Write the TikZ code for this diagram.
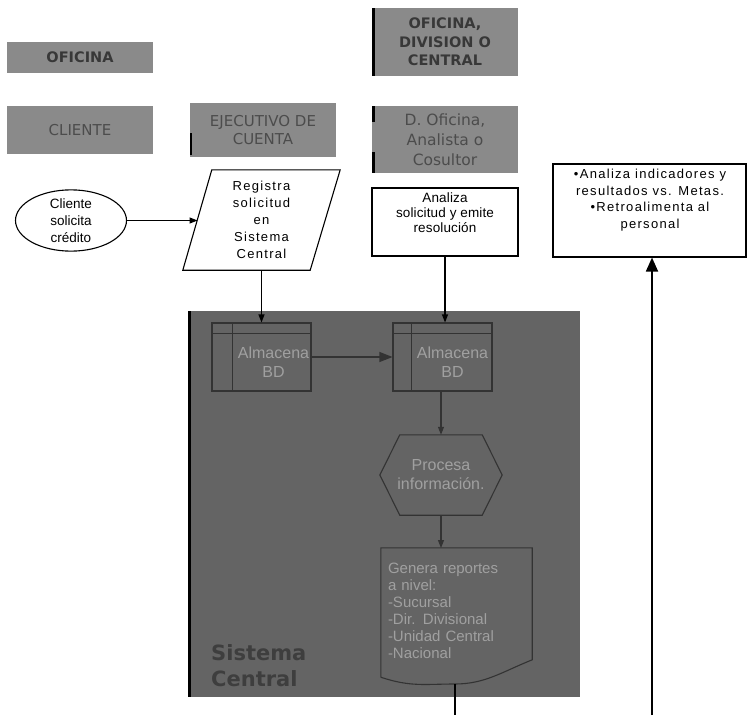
\documentclass[tikz,border=0pt]{standalone}
\usepackage{fontspec}
\setmainfont{Liberation Sans}
\newfontfamily\vfont{DejaVu Sans}
\newfontfamily\wfont[LetterSpace=10]{Liberation Sans}
\newfontfamily\afont[LetterSpace=1]{Liberation Sans}
\usetikzlibrary{arrows.meta,calc,shapes.geometric}
\definecolor{hdrgray}{HTML}{8A8A8A}
\definecolor{hdrtext}{HTML}{383838}
\definecolor{hdrtextlight}{HTML}{4C4C4C}
\definecolor{regiongray}{HTML}{646464}
\definecolor{regionline}{HTML}{333333}
\definecolor{regiontext}{HTML}{A0A0A0}
\definecolor{sctext}{HTML}{3E3E3E}
\tikzset{
  hdr/.style={fill=hdrgray, draw=none, inner sep=0pt, align=center, minimum width=146pt},
  hdrbold/.style={hdr, text=hdrtext, font=\vfont\bfseries\fontsize{14.5}{18.5}\selectfont},
  hdrnorm/.style={hdr, text=hdrtextlight, font=\vfont\fontsize{15}{18}\selectfont},
  wbox/.style={draw=black, fill=white, line width=1.1pt, inner sep=0pt},
  ghost/.style={draw=none, inner sep=0pt, align=center},
  almbox/.style={draw=regionline, line width=1.1pt, inner sep=0pt, minimum width=99pt, minimum height=68pt},
  regtext/.style={text=regiontext, font=\fontsize{16}{19}\selectfont, align=center, inner sep=0pt},
  arr/.style={draw=black, line width=1.1pt, -{Triangle[length=8pt,width=6pt]}},
  darr/.style={draw=regionline, line width=1.1pt, -{Triangle[length=8pt,width=6pt]}},
  bigarr/.style={draw=black, line width=1.8pt, -{Triangle[length=14pt,width=12pt]}},
  bar/.style={fill=black, draw=none}
}
\begin{document}
\begin{tikzpicture}[x=1pt,y=-1pt]
\useasboundingbox (0,0) rectangle (747,715);

% header boxes
\node[hdrbold, minimum height=31pt] (hofi) at (80,57.5) {OFICINA};
\node[hdrnorm, minimum height=48pt] (hcli) at (80,130) {CLIENTE};
\node[hdrnorm, minimum height=54pt] (heje) at (263,130) {EJECUTIVO DE\\CUENTA};
\node[hdrbold, minimum height=68pt] (hdiv) at (445,42) {OFICINA,\\DIVISION O\\CENTRAL};
\node[hdrnorm, minimum height=67pt, font=\vfont\fontsize{15.5}{20}\selectfont] (hana) at (445,139.5) {D. Oficina,\\Analista o\\Cosultor};
\fill[bar] (heje.south west) ++(0,-2) rectangle ++(2.5,-22);
\fill[bar] (hdiv.north west) rectangle ($(hdiv.south west)+(3,0)$);
\fill[bar] (hana.north west) rectangle ++(3,16);
\fill[bar] (hana.south west) rectangle ++(3,-21);

% Sistema Central region
\node[fill=regiongray, draw=none, minimum width=392pt, minimum height=386pt, inner sep=0pt] (sc) at (384,504) {};
\fill[bar] (sc.north west) rectangle ($(sc.south west)+(3.5,0)$);
\node[text=sctext, font=\vfont\bfseries\fontsize{21}{26}\selectfont, align=left, inner sep=0pt, anchor=north west] (sclabel) at (211,644) {Sistema\\Central};

% top flow
\node[draw=black, fill=white, ellipse, line width=1.1pt, minimum width=111pt, minimum height=55pt, inner sep=0pt, align=center, font=\fontsize{13.5}{16.7}\selectfont] (ell) at (71,220.5) {Cliente\\solicita\\crédito};
\node[ghost, minimum width=157pt, minimum height=100pt, font=\wfont\fontsize{13}{17}\selectfont] (reg) at (261.5,220) {Registra\\solicitud\\en\\Sistema\\Central};
\draw[line width=1.1pt] ($(reg.north west)+(29,0)$) -- (reg.north east) -- ($(reg.south east)+(-30,0)$) -- (reg.south west) -- cycle;
\coordinate (regin) at (197.5,220.5);
\node[wbox, minimum width=146pt, minimum height=68pt] (ana) at (445,222) {};
\node[ghost, font=\afont\fontsize{13.5}{15}\selectfont] (anat) at (445,212.5) {Analiza\\solicitud y emite\\resolución};
\node[wbox, minimum width=193pt, minimum height=93pt] (retro) at (649.5,210.5) {};
\node[ghost, font=\wfont\fontsize{13}{16.5}\selectfont] (retrot) at (650,200) {•Analiza indicadores y\\resultados vs. Metas.\\•Retroalimenta al\\personal};

% storage boxes
\node[almbox] (alm1) at (261.5,357) {};
\draw[regionline, line width=1.1pt] ($(alm1.north west)+(21,0)$) -- ($(alm1.south west)+(21,0)$)
  ($(alm1.north west)+(0,11)$) -- ($(alm1.north east)+(0,11)$);
\node[regtext] (alm1t) at (273.5,362.5) {Almacena\\BD};
\node[almbox] (alm2) at (442.5,357) {};
\draw[regionline, line width=1.1pt] ($(alm2.north west)+(19,0)$) -- ($(alm2.south west)+(19,0)$)
  ($(alm2.north west)+(0,11)$) -- ($(alm2.north east)+(0,11)$);
\node[regtext] (alm2t) at (452.5,362.5) {Almacena\\BD};

% process hexagon
\node[ghost, minimum width=122pt, minimum height=80pt, regtext] (proc) at (441,475) {Procesa\\información.};
\draw[regionline, line width=1.1pt] (proc.west) -- ($(proc.north west)+(20,0)$) -- ($(proc.north east)+(-20,0)$) -- (proc.east) -- ($(proc.south east)+(-20,0)$) -- ($(proc.south west)+(20,0)$) -- cycle;

% document shape
\node[draw=none, inner sep=0pt, minimum width=151pt, minimum height=129pt, text width=137pt, align=left, text=regiontext, font=\fontsize{15}{17}\selectfont] (gen) at (456.5,610.5) {Genera reportes\\a nivel:\\-Sucursal\\-Dir. Divisional\\-Unidad Central\\-Nacional};
\coordinate (genb) at (455,684);
\draw[regionline, line width=1.1pt] ($(gen.south west)+(0,2)$) -- ($(gen.north west)+(0,2)$) -- ($(gen.north east)+(0,2)$) -- ($(gen.north east)+(0,114)$)
  .. controls +(-30,12) and +(30,0) .. (genb)
  .. controls +(-30,0) and +(30,10) .. ($(gen.south west)+(0,2)$);
\coordinate (genend) at (455,715);
\coordinate (gentop) at (443,548);

% connectors
\draw[arr] (ell.east) -- (regin);
\draw[arr] (reg.south) -- (reg.south |- alm1.north);
\draw[arr] (ana.south) -- (ana.south |- alm2.north);
\draw[regionline, line width=1.1pt, -{Triangle[length=13pt,width=10pt]}] (alm1.east) -- (alm2.west);
\draw[darr] (alm2.south -| proc.north) -- (proc.north);
\draw[darr] (proc.south) -- (proc.south |- gentop);
\draw[line width=1.2pt] (genb) -- (genend);
\coordinate (retrobot) at (652,715);
\draw[bigarr] (retrobot) -- (retrobot |- retro.south);
\end{tikzpicture}
\end{document}
